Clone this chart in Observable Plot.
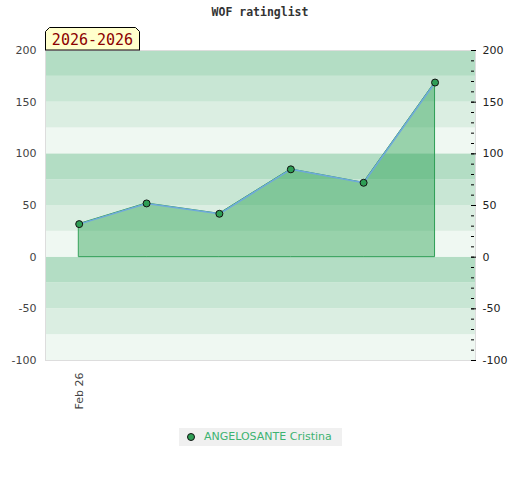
<!DOCTYPE html>
<html>
<head>
<meta charset="utf-8">
<script src="https://cdn.jsdelivr.net/npm/d3@7"></script>
<script src="https://cdn.jsdelivr.net/npm/@observablehq/plot@0.6"></script>
<style>
  body { margin: 0; background: #fff; }
  #wrap { position: relative; width: 520px; height: 480px; font-family: "DejaVu Sans", sans-serif; }
  #wrap svg.plot { position: absolute; left: 0; top: 0; }
  #title { position: absolute; left: 0; top: 5px; width: 520px; text-align: center;
           font-family: "DejaVu Sans Mono", monospace; font-weight: bold; font-size: 11.5px; color: #333; }
  #legend { position: absolute; left: 179px; top: 428px; width: 163px; height: 18px; background: #f0f0f0;
            font-size: 11px; color: #3cb371; line-height: 18px; }
  #legend .dot { position: absolute; left: 8px; top: 5px; width: 6px; height: 6px; border-radius: 50%;
                 background: #2e9e55; border: 1px solid #111; }
  #legend .lbl { position: absolute; left: 25px; top: 0; white-space: nowrap; }
  #badge { position: absolute; left: 0; top: 0; }
</style>
</head>
<body>
<div id="wrap">
  <div id="title"></div>
  <div id="legend"><span class="dot"></span><span class="lbl"></span></div>
</div>
<script>
// ---- data ----
const titleText = "WOF ratinglist";
const periodText = "2026-2026";
const playerName = "ANGELOSANTE Cristina";
const dates = ["2026-02-01T00:00Z", "2026-02-09T08:00Z", "2026-02-18T08:00Z", "2026-02-27T04:00Z", "2026-03-08T04:00Z", "2026-03-17T00:00Z"];
const ratings = [32, 52, 42, 85, 72, 169];
const xTickDates = ["2026-02-01T00:00Z"];
const xTickLabels = ["Feb 26"];
const yTicks = [-100, -50, 0, 50, 100, 150, 200];
const yMinorTicks = d3.range(-100, 201, 10);
const bandEdges = d3.range(-100, 200, 25);
const bandColors = ["#eff8f2", "#dbeee2", "#c8e6d4", "#b3ddc4"];

const data = dates.map((d, i) => ({date: new Date(d), rating: ratings[i]}));
const bands = bandEdges.map((lo, i) => ({lo, hi: lo + 25, color: bandColors[i % 4]}));
const fmt = d => String(d);

const chart = Plot.plot({
  width: 520,
  height: 410,
  marginTop: 50,
  marginBottom: 50,
  marginLeft: 45,
  marginRight: 45,
  style: {fontFamily: "DejaVu Sans, sans-serif", fontSize: "11px", background: "transparent"},
  x: {type: "utc", domain: [new Date("2026-01-27T20:00Z"), new Date("2026-03-22T00:00Z")]},
  y: {domain: [-100, 200]},
  marks: [
    Plot.rect(bands, {y1: "lo", y2: "hi", fill: "color"}),
    Plot.frame({stroke: "#dddddd"}),
    Plot.areaY(data, {x: "date", y: "rating", fill: "#1f9d4a", fillOpacity: 0.42, stroke: "#2e9e55", strokeWidth: 1}),
    Plot.lineY(data, {x: "date", y: "rating", stroke: "#6fa8dc", strokeWidth: 1.5}),
    Plot.dot(data, {x: "date", y: "rating", r: 3.5, fill: "#2e9e55", stroke: "#111", strokeWidth: 1}),
    Plot.axisY({anchor: "left", ticks: yTicks, tickFormat: fmt, tickSize: 0, tickPadding: 9, fill: "#444", label: null}),
    Plot.axisY({anchor: "right", ticks: yMinorTicks, tickSize: 3, dx: -5, text: null, stroke: "#000", label: null}),
    Plot.axisY({anchor: "right", ticks: yTicks, tickSize: 5, dx: -5, text: null, stroke: "#000", label: null}),
    Plot.axisY({anchor: "right", ticks: yTicks, tickFormat: fmt, tickSize: 0, tickPadding: 7, fill: "#222", label: null}),
    Plot.axisX({ticks: xTickDates.map(d => new Date(d)), tickFormat: (d, i) => xTickLabels[i], tickRotate: -90,
                tickSize: 0, tickPadding: 12, fill: "#444", label: null})
  ]
});
chart.classList.add("plot");
const wrap = document.getElementById("wrap");
wrap.insertBefore(chart, wrap.firstChild);

document.getElementById("title").textContent = titleText;
document.querySelector("#legend .lbl").textContent = playerName;

// period badge
const badge = d3.select(wrap).append("svg").attr("id", "badge").attr("width", 200).attr("height", 60);
badge.append("path")
  .attr("d", "M45.5,50 L45.5,31.5 L49.5,27.5 L135.5,27.5 L139.5,31.5 L139.5,50")
  .attr("fill", "#ffffcc").attr("stroke", "#000").attr("stroke-width", 1);
badge.append("line").attr("x1", 45).attr("x2", 140).attr("y1", 50).attr("y2", 50).attr("stroke", "#000");
badge.append("text").attr("x", 92.5).attr("y", 45).attr("text-anchor", "middle")
  .attr("font-family", "DejaVu Sans Mono, monospace").attr("font-size", 15).attr("fill", "#8b0000")
  .text(periodText);
</script>
</body>
</html>
